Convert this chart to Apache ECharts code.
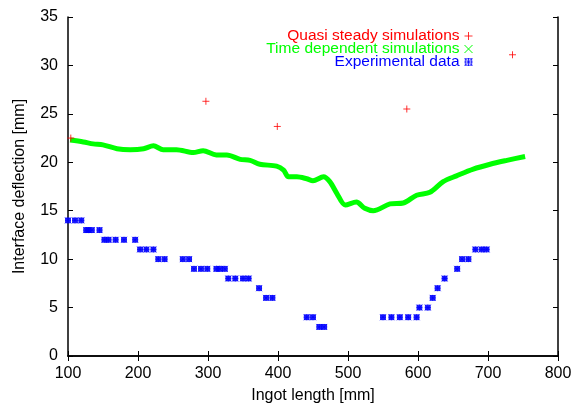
<!DOCTYPE html>
<html>
<head>
<meta charset="utf-8">
<script src="https://cdn.jsdelivr.net/npm/echarts@6/dist/echarts.min.js"></script>
<style>html,body{margin:0;padding:0;background:#fff}#c{width:582px;height:414px}</style>
</head>
<body>
<div id="c"></div>
<script>
const quasiX = [104, 297, 399, 584, 735];
const quasiY = [22.5, 26.3, 23.7, 25.5, 31.1];

const timeX = [103,122,136,150,170,189,208,222,236,255,279,293,312,327,346,360,374,398,408,415,427,441,450,465,474,484,496,512,524,536,560,579,598,617,636,655,679,703,727,753];
const timeY = [22.3,22.1,21.9,21.8,21.4,21.3,21.4,21.7,21.3,21.3,21.0,21.2,20.75,20.75,20.3,20.2,19.8,19.6,19.2,18.5,18.5,18.3,18.1,18.5,18.0,16.8,15.6,15.9,15.25,15.0,15.7,15.8,16.6,16.9,18.0,18.6,19.3,19.8,20.2,20.6];

const expX = [100,110,119,126,129,134,145,152,158,168,180,196,203,212,222,229,238,264,273,280,290,299,312,317,324,329,339,350,358,373,383,392,441,450,459,466,550,562,574,586,598,602,614,621,628,638,656,663,672,682,691,698];
const expY = [14,14,14,13,13,13,13,12,12,12,12,12,11,11,11,10,10,10,10,9,9,9,9,9,9,8,8,8,8,7,6,6,4,4,3,3,4,4,4,4,4,5,5,6,7,8,9,10,10,11,11,11];

const xTicks = [100,200,300,400,500,600,700,800];
const yTicks = [0,5,10,15,20,25,30,35];

const zip = (a, b) => a.map((v, i) => [v, b[i]]);
const FONT = '"Liberation Sans", Arial, sans-serif';
const plusPath = 'path://M0 5L10 5M5 0L5 10';
const crossPath = 'path://M0 0L10 10M10 0L0 10';
const starPath = 'path://M1 1L9 1L9 9L1 9ZM0 5L10 5M5 0L5 10M0 0L10 10M10 0L0 10';

const axisCommon = {
  axisLine: {show: true, lineStyle: {color: '#000', width: 1.5}},
  axisTick: {show: true, inside: true, length: 5, lineStyle: {color: '#000', width: 1}},
  splitLine: {show: false}
};

const chart = echarts.init(document.getElementById('c'));
chart.setOption({
  animation: false,
  backgroundColor: '#fff',
  grid: {left: 68, right: 24, top: 17, bottom: 58},
  legend: {
    orient: 'vertical',
    right: 104,
    top: 23,
    align: 'right',
    itemWidth: 8,
    itemHeight: 8,
    itemGap: -3,
    textStyle: {fontFamily: FONT, fontSize: 15.5, lineHeight: 12.5, padding: [0, 0, 0, 0]},
    data: [
      {name: 'Quasi steady simulations', icon: plusPath, textStyle: {color: '#ff0000'},
       itemStyle: {color: 'transparent', borderColor: '#ff0000', borderWidth: 1}},
      {name: 'Time dependent simulations', icon: crossPath, textStyle: {color: '#00ff00'},
       itemStyle: {color: 'transparent', borderColor: '#00ff00', borderWidth: 1}, lineStyle: {width: 0, opacity: 0}},
      {name: 'Experimental data', icon: starPath, textStyle: {color: '#0000ff'},
       itemStyle: {color: 'transparent', borderColor: '#0000ff', borderWidth: 1}}
    ]
  },
  xAxis: [
    Object.assign({}, axisCommon, {
      type: 'value', min: 100, max: 800, interval: 100, position: 'bottom',
      name: 'Ingot length [mm]', nameLocation: 'middle', nameGap: 32,
      nameTextStyle: {fontFamily: FONT, fontSize: 16, color: '#000'},
      axisLabel: {fontFamily: FONT, fontSize: 16, color: '#000', margin: 10,
        formatter: v => xTicks.includes(v) ? String(v) : ''}
    }),
    Object.assign({}, axisCommon, {
      type: 'value', min: 100, max: 800, interval: 100, position: 'top',
      axisLabel: {show: false}
    })
  ],
  yAxis: [
    Object.assign({}, axisCommon, {
      type: 'value', min: 0, max: 35, interval: 5, position: 'left',
      name: 'Interface deflection [mm]', nameLocation: 'middle', nameGap: 40,
      nameTextStyle: {fontFamily: FONT, fontSize: 16, color: '#000'},
      axisLabel: {fontFamily: FONT, fontSize: 16, color: '#000', margin: 10,
        formatter: v => yTicks.includes(v) ? String(v) : ''}
    }),
    Object.assign({}, axisCommon, {
      type: 'value', min: 0, max: 35, interval: 5, position: 'right',
      axisLabel: {show: false}
    })
  ],
  series: [
    {
      name: 'Quasi steady simulations', type: 'scatter', z: 5,
      symbol: plusPath, symbolSize: 7,
      itemStyle: {color: 'transparent', borderColor: '#ff0000', borderWidth: 1},
      data: zip(quasiX, quasiY)
    },
    {
      name: 'Time dependent simulations', type: 'line', z: 3,
      symbol: crossPath, showSymbol: false, smooth: 0.3,
      lineStyle: {color: '#00ff00', width: 5},
      itemStyle: {color: 'transparent', borderColor: '#00ff00'},
      data: zip(timeX, timeY)
    },
    {
      name: 'Experimental data', type: 'scatter', z: 4,
      symbol: starPath, symbolSize: 6,
      itemStyle: {color: '#0000ff', borderColor: '#0000ff', borderWidth: 1},
      data: zip(expX, expY)
    }
  ]
});
</script>
</body>
</html>
